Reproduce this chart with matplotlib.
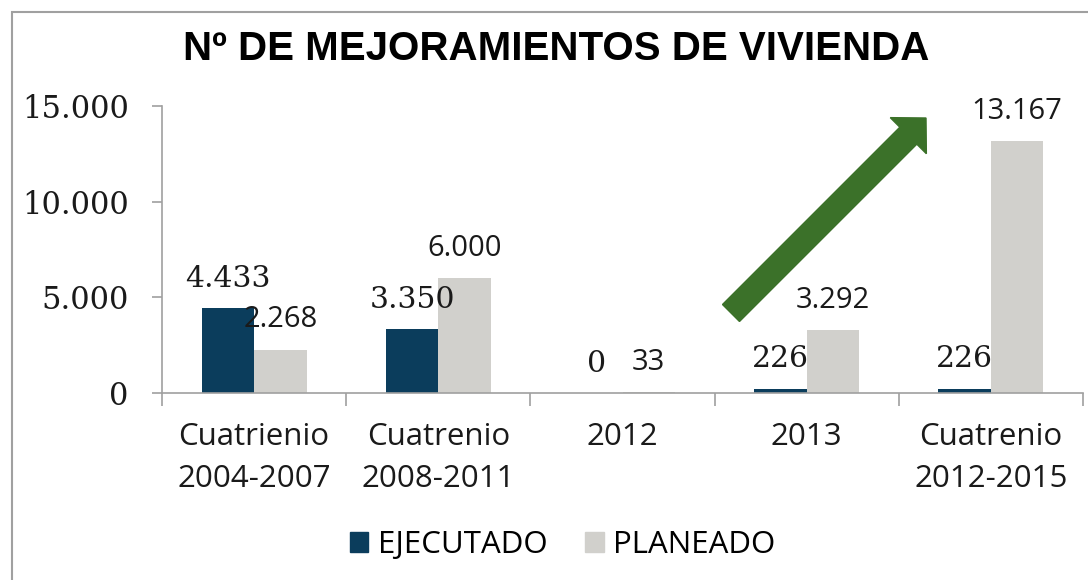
import numpy as np
import matplotlib
matplotlib.use('Agg')
import matplotlib.pyplot as plt
from matplotlib.patches import FancyArrow, Rectangle, Patch
from matplotlib.transforms import IdentityTransform

categories = ['Cuatrienio\n2004-2007', 'Cuatrenio\n2008-2011', '2012', '2013', 'Cuatrenio\n2012-2015']
ejecutado = [4433, 3350, 0, 226, 226]
planeado = [2268, 6000, 33, 3292, 13167]
yticks = [0, 5000, 10000, 15000]

BLUE = '#0b3d5c'
GREY = '#d1d0cc'
GREEN = '#3b7129'
SANS = ['Open Sans', 'DejaVu Sans']
SERIF = ['DejaVu Serif']


def fmt(v):
    return f'{v:,}'.replace(',', '.')


fig = plt.figure(figsize=(10.88, 5.80), dpi=100)
ax = fig.add_axes([162 / 1088, 187 / 580, 921 / 1088, 287 / 580])

x = np.arange(len(categories))
w = 0.285
ax.bar(x - w / 2, ejecutado, w, color=BLUE)
ax.bar(x + w / 2, planeado, w, color=GREY)

for xi, v in zip(x, ejecutado):
    ax.annotate(fmt(v), (xi - w / 2, v), xytext=(0, 11), textcoords='offset points',
                ha='center', va='bottom', fontsize=21.5, family=SERIF, color='#1a1a1a')
for xi, v in zip(x, planeado):
    ax.annotate(fmt(v), (xi + w / 2, v), xytext=(0, 11), textcoords='offset points',
                ha='center', va='bottom', fontsize=21, family=SANS, color='#1a1a1a')

ax.set_xlim(-0.5, len(categories) - 0.5)
ax.set_ylim(0, 15000)
ax.set_yticks(yticks)
ax.set_yticklabels([fmt(v) for v in yticks], family=SERIF, fontsize=22, color='#1a1a1a')
ax.set_xticks(x)
ax.set_xticklabels(categories, family=SANS, fontsize=22.5, color='#1a1a1a', linespacing=1.5)
ax.set_xticks(np.arange(len(categories) + 1) - 0.5, minor=True)
ax.tick_params(axis='x', which='major', length=0, pad=21)
ax.tick_params(axis='x', which='minor', length=9, color='#a0a0a0', width=1.2)
ax.tick_params(axis='y', length=7, color='#a0a0a0', width=1.2, pad=17)
for s in ['top', 'right']:
    ax.spines[s].set_visible(False)
for s in ['left', 'bottom']:
    ax.spines[s].set_color('#a0a0a0')
    ax.spines[s].set_linewidth(1.2)

fig.text(0.511, 531 / 580, 'Nº DE MEJORAMIENTOS DE VIVIENDA', ha='center', va='center',
         fontsize=29, fontweight='bold', family=['Liberation Sans Narrow', 'Liberation Sans'])

handles = [Patch(color=BLUE, label='EJECUTADO'), Patch(color=GREY, label='PLANEADO')]
fig.legend(handles=handles, loc='center', bbox_to_anchor=(0.517, 35 / 580), ncol=2,
           frameon=False, prop={'family': SANS, 'size': 22.5}, handlelength=0.6,
           handleheight=0.6, handletextpad=0.3, columnspacing=1.2)

# green trend arrow (pixel coordinates)
fig.patches.append(FancyArrow(731, 267, 195, 195, width=24, head_width=51, head_length=25,
                              length_includes_head=True, color=GREEN,
                              transform=IdentityTransform(), figure=fig))
# outer frame
fig.patches.append(Rectangle((12, -5), 1100, 573, fill=False, edgecolor='#a0a0a0', lw=1.5,
                             transform=IdentityTransform(), figure=fig))

fig.savefig('out.png', dpi=100)
